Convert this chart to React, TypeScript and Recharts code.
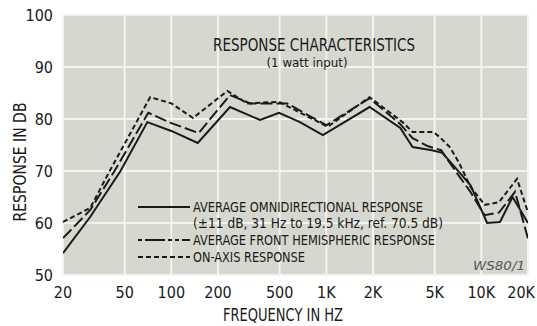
import React from "react";
import { LineChart, Line, XAxis, YAxis, CartesianGrid } from "recharts";

const freqTicks = [20, 50, 100, 200, 500, 1000, 2000, 5000, 10000, 20000];
const freqTickLabels = ["20", "50", "100", "200", "500", "1K", "2K", "5K", "10K", "20K"];
const dbTicks = [50, 60, 70, 80, 90, 100];

// Average omnidirectional response (solid)
const omniFreq = [20, 30, 47, 70, 100, 148, 239, 374, 495, 676, 950, 1900, 3000, 3600, 4800, 5600, 7200, 8500, 10900, 13200, 15900, 20000];
const omniDb = [54.2, 61.2, 70, 79.4, 77.7, 75.4, 82.3, 79.8, 81.2, 79.4, 76.9, 82.3, 78.3, 74.6, 74, 73.5, 69.8, 67.3, 60, 60.2, 65, 60];

// Average front hemispheric response (long dash)
const frontFreq = [20, 30, 43, 71, 100, 150, 239, 322, 558, 1000, 1900, 3000, 3600, 4500, 5500, 7000, 8500, 10500, 13000, 16500, 20000];
const frontDb = [57.1, 62.5, 70, 81.2, 79.2, 77.3, 84.6, 83, 83, 78.8, 84, 79, 76.3, 74.8, 74, 69.5, 66, 61.5, 62, 66, 57];

// On-axis response (short dash)
const axisFreq = [20, 30, 40, 73, 100, 138, 230, 308, 495, 1020, 1900, 3100, 3600, 4900, 5400, 6300, 7200, 8500, 10500, 13000, 17000, 20000];
const axisDb = [60.2, 62.9, 70, 84.2, 83, 80.2, 85.4, 83, 83.3, 78.5, 84.2, 79.4, 77.5, 77.5, 76.5, 74.5, 71.5, 67, 63.5, 64, 68.5, 62];

const toData = (f: number[], v: number[]) => f.map((x, i) => ({ f: x, db: v[i] }));
const omniData = toData(omniFreq, omniDb);
const frontData = toData(frontFreq, frontDb);
const axisData = toData(axisFreq, axisDb);

const FONT = "'Liberation Sans Narrow','DejaVu Sans Condensed','Roboto Condensed',Roboto,sans-serif";
const INK = "#1a1a1a";

const XTick = (props: any) => {
  const { x, payload } = props;
  const i = freqTicks.indexOf(payload.value);
  const last = i === freqTicks.length - 1;
  return (
    <text
      x={last ? 535 : x}
      y={292}
      textAnchor={last ? "end" : "middle"}
      dominantBaseline="central"
      fontFamily={FONT}
      fontSize={16}
      fill={INK}
    >
      {i >= 0 ? freqTickLabels[i] : payload.value}
    </text>
  );
};

const YTick = (props: any) => {
  const { y, payload } = props;
  return (
    <text x={53} y={y} textAnchor="end" dominantBaseline="central" fontFamily={FONT} fontSize={16} fill={INK}>
      {payload.value}
    </text>
  );
};

export default function App() {
  return (
    <div style={{ position: "absolute", left: 0, top: 0, width: 537, height: 326, background: "#fff" }}>
      <LineChart width={537} height={326} margin={{ top: 15, right: 9, left: 0, bottom: 0 }}>
        <CartesianGrid fill="#d6d7cf" fillOpacity={1} stroke="#f4f4ee" strokeWidth={2} />
        <XAxis
          dataKey="f"
          type="number"
          scale="log"
          domain={[20, 20000]}
          ticks={freqTicks}
          allowDataOverflow
          axisLine={false}
          tickLine={false}
          height={51}
          tick={<XTick />}
          interval={0}
        />
        <YAxis
          type="number"
          domain={[50, 100]}
          ticks={dbTicks}
          allowDataOverflow
          axisLine={false}
          tickLine={false}
          width={63}
          tick={<YTick />}
          interval={0}
        />
        <Line data={omniData} dataKey="db" stroke={INK} strokeWidth={2} dot={false} isAnimationActive={false} type="linear" />
        <Line data={frontData} dataKey="db" stroke={INK} strokeWidth={2} strokeDasharray="12 4" dot={false} isAnimationActive={false} type="linear" />
        <Line data={axisData} dataKey="db" stroke={INK} strokeWidth={2} strokeDasharray="5 3" dot={false} isAnimationActive={false} type="linear" />
      </LineChart>
      <svg width={537} height={326} style={{ position: "absolute", left: 0, top: 0, pointerEvents: "none" }}>
        <text x={314} y={45} textAnchor="middle" dominantBaseline="central" fontFamily={FONT} fontSize={17} fill={INK} textLength={202} lengthAdjust="spacingAndGlyphs">
          RESPONSE CHARACTERISTICS
        </text>
        <text x={307} y={63} textAnchor="middle" dominantBaseline="central" fontFamily={FONT} fontSize={12} fill={INK} textLength={81} lengthAdjust="spacingAndGlyphs">
          (1 watt input)
        </text>
        <line x1={138} x2={190} y1={207} y2={207} stroke={INK} strokeWidth={2} />
        <line x1={138} x2={190} y1={240} y2={240} stroke={INK} strokeWidth={2} strokeDasharray="4 3 20 3 4 3" />
        <line x1={138} x2={190} y1={257} y2={257} stroke={INK} strokeWidth={2} strokeDasharray="5 3" />
        <text x={193} y={207} dominantBaseline="central" fontFamily={FONT} fontSize={14} fill={INK} textLength={230} lengthAdjust="spacingAndGlyphs">
          AVERAGE OMNIDIRECTIONAL RESPONSE
        </text>
        <text x={193} y={223} dominantBaseline="central" fontFamily={FONT} fontSize={14} fill={INK} textLength={250} lengthAdjust="spacingAndGlyphs">
          (±11 dB, 31 Hz to 19.5 kHz, ref. 70.5 dB)
        </text>
        <text x={193} y={240} dominantBaseline="central" fontFamily={FONT} fontSize={14} fill={INK} textLength={242} lengthAdjust="spacingAndGlyphs">
          AVERAGE FRONT HEMISPHERIC RESPONSE
        </text>
        <text x={193} y={257} dominantBaseline="central" fontFamily={FONT} fontSize={14} fill={INK} textLength={112} lengthAdjust="spacingAndGlyphs">
          ON-AXIS RESPONSE
        </text>
        <text x={499} y={266} textAnchor="middle" dominantBaseline="central" fontFamily={FONT} fontSize={12} fontStyle="italic" fill="#555" textLength={52} lengthAdjust="spacingAndGlyphs">
          WS80/1
        </text>
        <text x={283} y={315} textAnchor="middle" dominantBaseline="central" fontFamily={FONT} fontSize={17} fill={INK} textLength={120} lengthAdjust="spacingAndGlyphs">
          FREQUENCY IN HZ
        </text>
        <text x={20} y={162} textAnchor="middle" dominantBaseline="central" fontFamily={FONT} fontSize={17} fill={INK} textLength={119} lengthAdjust="spacingAndGlyphs" transform="rotate(-90 20 162)">
          RESPONSE IN DB
        </text>
      </svg>
    </div>
  );
}
